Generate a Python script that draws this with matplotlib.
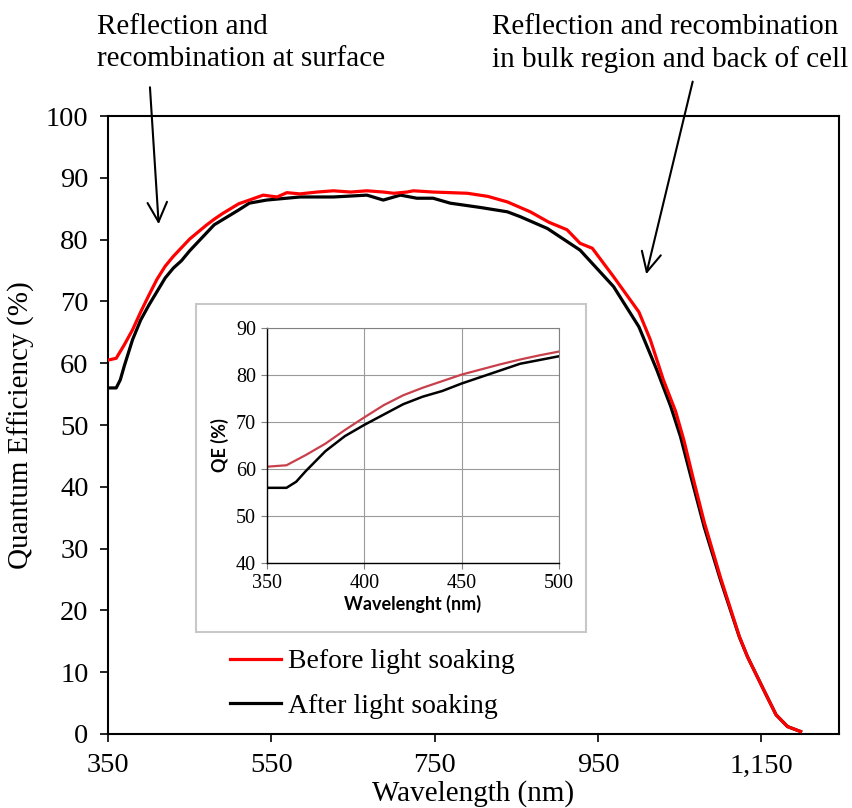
import matplotlib
matplotlib.use("Agg")
from matplotlib import pyplot as plt
from matplotlib.patches import Rectangle
from matplotlib.ticker import FuncFormatter

# Quantum efficiency before / after light soaking (nm, %)
wl_before = [350, 360, 370, 380, 390, 400, 410, 420, 430, 440, 450, 460, 470, 480, 490, 500,
             510, 523, 540, 557, 569, 585, 606, 626, 647, 667, 687, 700, 716, 724, 748, 769,
             790, 815, 839, 867, 890, 912, 928, 943, 969, 1000, 1014, 1030, 1045, 1055, 1067,
             1080, 1100, 1123, 1133, 1153, 1168, 1182, 1198]
qe_before = [60.5, 60.8, 63.0, 65.4, 68.3, 71.0, 73.6, 75.7, 77.3, 78.7, 80.1, 81.2, 82.3, 83.3, 84.2, 85.0,
             85.8, 86.4, 87.2, 86.9, 87.6, 87.4, 87.7, 87.9, 87.7, 87.9, 87.7, 87.5, 87.7, 87.9, 87.7, 87.6,
             87.5, 87.0, 86.1, 84.5, 82.8, 81.6, 79.4, 78.6, 74.0, 68.3, 63.8, 57.3, 52.2, 47.6, 41.1,
             34.3, 25.3, 15.8, 12.5, 7.1, 3.1, 1.2, 0.4]

wl_after = [350, 360, 365, 370, 380, 390, 400, 410, 420, 430, 440, 450, 460, 470, 480, 490, 500,
            510, 523, 544, 585, 626, 667, 687, 708, 728, 748, 769, 806, 839, 855, 888, 928, 969,
            1000, 1022, 1039, 1051, 1063, 1080, 1100, 1123, 1133, 1153, 1168, 1182, 1198]
qe_after = [56.0, 56.0, 57.3, 59.6, 63.8, 67.0, 69.4, 71.6, 73.8, 75.4, 76.6, 78.2, 79.6, 81.0, 82.4, 83.2, 84.0,
            84.8, 85.9, 86.4, 86.9, 86.9, 87.2, 86.4, 87.2, 86.7, 86.7, 85.9, 85.2, 84.5, 83.7, 81.8, 78.3, 72.4,
            65.9, 58.9, 53.0, 48.1, 42.0, 33.5, 24.9, 15.7, 12.5, 7.1, 3.1, 1.2, 0.4]

x_ticks = [350, 550, 750, 950, 1150]
y_ticks = list(range(0, 101, 10))
inset_x_ticks = [350, 400, 450, 500]
inset_y_ticks = [40, 50, 60, 70, 80, 90]

serif = "Liberation Serif"
plt.rcParams["font.family"] = serif

fig = plt.figure(figsize=(8.52, 8.08), dpi=100)
ax = fig.add_axes([0.1268, 0.0916, 0.8579, 0.7648])

ax.plot(wl_before, qe_before, color="#ff0000", lw=2.3, solid_joinstyle="round",
        label="Before light soaking", zorder=3)
ax.plot(wl_after, qe_after, color="black", lw=2.3, solid_joinstyle="round",
        label="After light soaking", zorder=2)

ax.set_xlim(350, 1245)
ax.set_ylim(0, 100)
ax.set_xticks(x_ticks)
ax.set_yticks(y_ticks)
ax.xaxis.set_major_formatter(FuncFormatter(lambda v, p: f"{int(v):,}"))
ax.tick_params(direction="out", length=6, width=1.2, labelsize=20.5)
ax.tick_params(axis="x", pad=8)
ax.tick_params(axis="y", pad=8)
for s in ax.spines.values():
    s.set_linewidth(1.5)
ax.set_xlabel("Wavelength (nm)", fontsize=21, labelpad=1)
ax.set_ylabel("Quantum Efficiency (%)", fontsize=21, labelpad=8)

fig.legend(loc="upper left", bbox_to_anchor=(0.27, 0.197), frameon=False,
           fontsize=20, handlelength=1.85, handletextpad=0.25, labelspacing=0.7,
           borderpad=0, borderaxespad=0)

# annotation arrows
arrow = dict(arrowstyle="->,head_length=0.7,head_width=0.35", color="black", lw=1.5,
             mutation_scale=20, shrinkA=0, shrinkB=0)
ax.annotate("", xy=(412, 82.5), xycoords="data", xytext=(0.176, 0.892), textcoords="figure fraction",
            arrowprops=arrow, annotation_clip=False)
ax.annotate("", xy=(1009, 74.4), xycoords="data", xytext=(0.813, 0.899), textcoords="figure fraction",
            arrowprops=arrow, annotation_clip=False)
fig.text(0.114, 0.983, "Reflection and\nrecombination at surface", fontsize=21,
         ha="left", va="top", linespacing=1.3)
fig.text(0.577, 0.983, "Reflection and recombination\nin bulk region and back of cell", fontsize=21,
         ha="left", va="top", linespacing=1.3)

# inset: zoom on 350-500 nm
fig.add_artist(Rectangle((0.230, 0.2178), 0.4577, 0.406, transform=fig.transFigure,
                         facecolor="white", edgecolor="#c8c8c8", lw=1.5, zorder=2))
ins = fig.add_axes([0.3134, 0.3032, 0.3427, 0.2908])
ins.set_zorder(3)
ins.plot(wl_before, qe_before, color="#c8404c", lw=1.6)
ins.plot(wl_after, qe_after, color="black", lw=1.8)
ins.set_xlim(350, 500)
ins.set_ylim(40, 90)
ins.set_xticks(inset_x_ticks)
ins.set_yticks(inset_y_ticks)
ins.grid(True, color="#9a9a9a", lw=0.8)
ins.set_axisbelow(True)
ins.tick_params(direction="out", length=4, width=0.8, color="#808080", labelsize=14.5, pad=4)
for side in ["left", "bottom"]:
    ins.spines[side].set_color("black")
    ins.spines[side].set_linewidth(1.0)
for side in ["top", "right"]:
    ins.spines[side].set_color("#808080")
    ins.spines[side].set_linewidth(0.8)
ins.set_xlabel("Wavelenght (nm)", fontsize=13, fontweight="bold", family="Lato", labelpad=1)
ins.set_ylabel("QE (%)", fontsize=13, fontweight="bold", family="Lato", labelpad=5)

fig.savefig("out.png", dpi=100)
